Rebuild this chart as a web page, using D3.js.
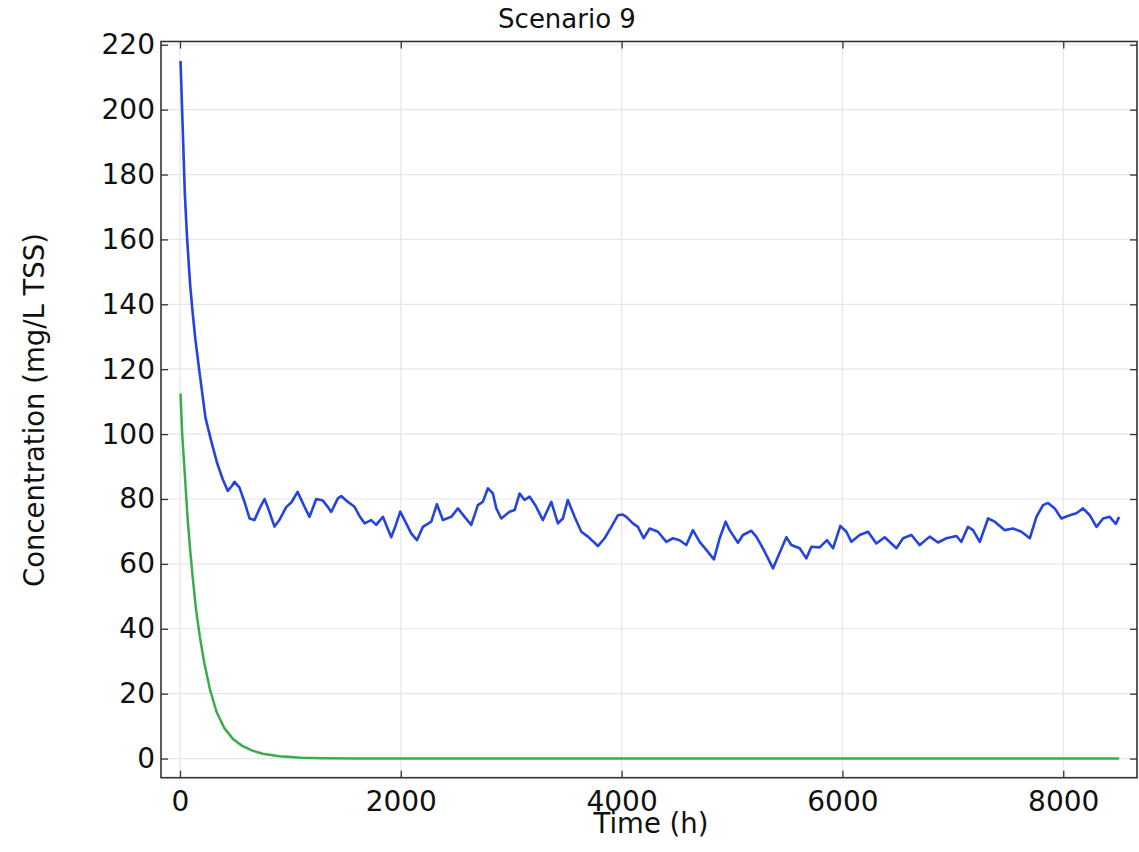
<!DOCTYPE html>
<html>
<head>
<meta charset="utf-8">
<title>Scenario 9</title>
<script src="https://cdnjs.cloudflare.com/ajax/libs/d3/7.8.5/d3.min.js"></script>
<style>
  body { margin: 0; background: #fff; }
  svg { display: block; }
  svg text { font-family: "DejaVu Sans", sans-serif; fill: #111; }
</style>
</head>
<body>
<svg width="1139" height="852"></svg>
<script>
// blue series (h, mg/L TSS)
var timeBlue = [5,25,44,65,92,116,140,177,231,282,337,388,433,470,494,539,585,630,675,720,
  766,800,856,900,962,1010,1065,1128,1173,1234,1294,1340,1370,1430,1460,1521,1581,1630,1672,1732,
  1777,1838,1880,1913,1955,1995,2049,2094,2146,2200,2276,2327,2381,2457,2517,2578,2638,2698,2743,2789,
  2834,2865,2910,2985,3031,3076,3121,3167,3220,3287,3363,3423,3468,3513,3574,3635,3695,3740,3785,3846,
  3907,3967,4010,4043,4102,4148,4199,4254,4329,4405,4465,4525,4586,4646,4707,4767,4836,4888,4942,4978,
  5054,5099,5175,5220,5280,5326,5371,5416,5492,5537,5613,5673,5719,5794,5860,5915,5981,6036,6081,6156,
  6232,6307,6383,6489,6549,6625,6700,6791,6866,6942,7032,7077,7137,7183,7244,7319,7380,7470,7545,7621,
  7697,7757,7817,7862,7923,7983,8059,8119,8179,8240,8301,8361,8421,8476,8506];
var concBlue = [215,194,174,160,146,137,129,119,105,98,91,86,82.5,84,85.3,83.5,79,74,73.5,77,
  80,77,71.5,73.5,77.5,79,82.2,77.6,74.5,80,79.5,77.5,76,80.2,80.9,79.1,77.6,74.5,72.5,73.5,
  72,74.5,71,68.2,72,76.1,72.5,69.4,67.3,71.4,73,78.4,73.5,74.5,77.1,74.5,72,78.1,79.1,83.3,
  81.7,77.1,74,76.1,76.6,81.7,79.7,80.7,78,73.5,79.1,72.5,74,79.7,74.5,69.9,68.4,67,65.5,67.9,
  71.4,75,75.2,74.5,72.5,71.4,67.9,70.9,69.9,66.8,67.9,67.3,65.8,70.4,66.8,64.3,61.4,67.9,73,70.4,
  66.5,68.9,70.2,68.4,64.8,61.7,58.6,62.2,68.2,65.8,64.8,61.7,65.3,65.1,67.3,64.8,71.7,69.9,66.8,68.9,
  69.9,66.3,68.2,64.8,67.9,68.9,65.8,68.4,66.6,67.9,68.6,66.8,71.4,70.4,66.8,74,73,70.4,70.9,69.9,
  67.9,74.5,78.1,78.8,77.1,74,75,75.6,77.1,75,71.4,74,74.5,72.3,74.5];

// green series
var timeGreen = [5,20,45,65,90,115,145,180,220,270,330,400,480,560,650,750,900,1100,1300,1600,2000,3000,4000,5000,6000,7000,8000,8506];
var concGreen = [112.5,100,87,76,65,56,46,37.5,29.5,21.5,14.5,9.5,6,4,2.5,1.5,0.7,0.25,0.08,0.02,0,0,0,0,0,0,0,0];

var xTicks = [0, 2000, 4000, 6000, 8000];
var yTicks = [0, 20, 40, 60, 80, 100, 120, 140, 160, 180, 200, 220];

var svg = d3.select("svg");
var plotLeft = 161, plotRight = 1137, plotTop = 41.5, plotBottom = 777.7;

var x = d3.scaleLinear().domain([-172, 8668]).range([plotLeft, plotRight]);
var y = d3.scaleLinear().domain([-5.9, 221]).range([plotBottom, plotTop]);

// grid
svg.append("g").selectAll("line").data(xTicks).enter().append("line")
  .attr("x1", d => x(d)).attr("x2", d => x(d))
  .attr("y1", plotTop).attr("y2", plotBottom)
  .attr("stroke", "#e6e6e6").attr("stroke-width", 1.2);
svg.append("g").selectAll("line").data(yTicks).enter().append("line")
  .attr("x1", plotLeft).attr("x2", plotRight)
  .attr("y1", d => y(d)).attr("y2", d => y(d))
  .attr("stroke", "#e6e6e6").attr("stroke-width", 1.2);

// curves
var line = d3.line().x(d => x(d[0])).y(d => y(d[1]));
svg.append("path").datum(d3.zip(timeGreen, concGreen))
  .attr("d", line).attr("fill", "none")
  .attr("stroke", "#3aac4a").attr("stroke-width", 2.5);
svg.append("path").datum(d3.zip(timeBlue, concBlue))
  .attr("d", line).attr("fill", "none")
  .attr("stroke", "#2444dc").attr("stroke-width", 2.6).attr("stroke-linejoin", "round");

// axes, ticks pointing inward
function styleAxis(g) {
  g.attr("font-family", null).attr("font-size", null);
  g.select(".domain").remove();
  g.selectAll(".tick line").attr("stroke", "#333").attr("stroke-width", 1.3);
  g.selectAll(".tick text").style("font-size", "28px");
}
svg.append("g").attr("transform", "translate(0," + plotBottom + ")")
  .call(d3.axisBottom(x).tickValues(xTicks).tickSize(-7).tickPadding(13).tickFormat(d3.format("d")))
  .call(styleAxis);
svg.append("g").attr("transform", "translate(" + plotLeft + ",0)")
  .call(d3.axisLeft(y).tickValues(yTicks).tickSize(-7).tickPadding(6).tickFormat(d3.format("d")))
  .call(styleAxis);
svg.append("g").attr("transform", "translate(0," + plotTop + ")")
  .call(d3.axisTop(x).tickValues(xTicks).tickSize(-7).tickFormat(""))
  .call(styleAxis);
svg.append("g").attr("transform", "translate(" + plotRight + ",0)")
  .call(d3.axisRight(y).tickValues(yTicks).tickSize(-7).tickFormat(""))
  .call(styleAxis);

// frame
svg.append("rect")
  .attr("x", plotLeft).attr("y", plotTop)
  .attr("width", plotRight - plotLeft).attr("height", plotBottom - plotTop)
  .attr("fill", "none").attr("stroke", "#333").attr("stroke-width", 1.6);

// labels
svg.append("text").attr("x", 567).attr("y", 28)
  .attr("text-anchor", "middle").style("font-size", "26px")
  .text("Scenario 9");
svg.append("text").attr("x", 651).attr("y", 833)
  .attr("text-anchor", "middle").style("font-size", "27.5px")
  .text("Time (h)");
svg.append("text")
  .attr("transform", "translate(44,410) rotate(-90)")
  .attr("text-anchor", "middle").style("font-size", "27.5px")
  .text("Concentration (mg/L TSS)");
</script>
</body>
</html>
